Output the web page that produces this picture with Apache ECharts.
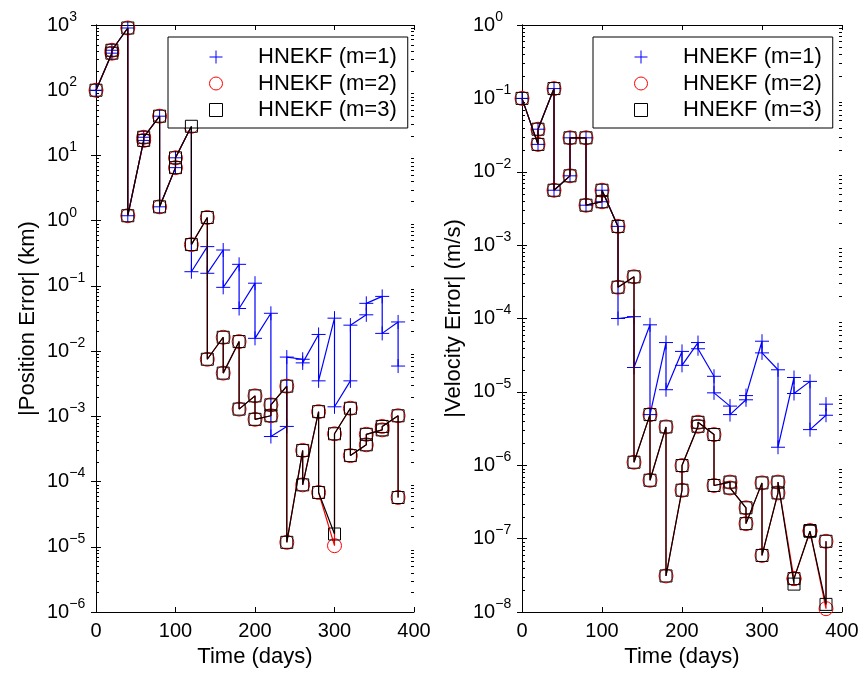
<!DOCTYPE html>
<html>
<head>
<meta charset="utf-8">
<script src="https://cdn.jsdelivr.net/npm/echarts@6/dist/echarts.min.js"></script>
<style>
html,body{margin:0;padding:0;background:#fff;}
#chart{width:864px;height:675px;}
</style>
</head>
<body>
<div id="chart"></div>
<script>
// ---- data ----
const times = [0,20,40,60,80,100,120,140,160,180,200,220,240,260,280,300,320,340,360,380];
const seriesNames = ['HNEKF (m=1)', 'HNEKF (m=2)', 'HNEKF (m=3)'];
const xTicks = [0, 100, 200, 300, 400];

// |Position Error| (km): value before and after the update at each time
const posM1Pre  = [100, 370, 900, 17, 40, 6.5, 28, 0.40, 0.355, 0.214, 0.11, 0.038, 0.0007, 0.0075, 0.018, 0.032, 0.0035, 0.036, 0.069, 0.028];
const posM1Post = [100, 410, 1.19, 19, 1.63, 9.2, 0.165, 0.156, 0.095, 0.045, 0.0157, 0.00049, 0.0081, 0.0066, 0.0035, 0.0014, 0.025, 0.054, 0.0187, 0.0059];
const posM2Pre  = [100, 370, 900, 17, 40, 6.5, 28, 1.12, 0.0163, 0.014, 0.00206, 0.00102, 0.0029, 3.0e-4, 0.00118, 1.04e-5, 0.00133, 3.66e-4, 6.2e-4, 0.00102];
const posM2Post = [100, 410, 1.19, 19, 1.63, 9.2, 0.43, 0.0075, 0.0046, 0.00129, 0.0009, 0.0015, 1.17e-5, 8.9e-5, 6.8e-5, 5.4e-4, 2.5e-4, 5.3e-4, 7.0e-4, 5.7e-5];
const posM3Pre  = [100, 370, 900, 17, 40, 6.5, 28, 1.12, 0.0163, 0.014, 0.00206, 0.00102, 0.0029, 3.0e-4, 0.00118, 1.57e-5, 0.00133, 3.66e-4, 6.2e-4, 0.00102];
const posM3Post = [100, 410, 1.19, 19, 1.63, 9.2, 0.43, 0.0075, 0.0046, 0.00129, 0.0009, 0.0015, 1.17e-5, 8.9e-5, 6.8e-5, 5.4e-4, 2.5e-4, 5.3e-4, 7.0e-4, 5.7e-5];

// |Velocity Error| (m/s)
const velM1Pre  = [0.1, 0.0236, 0.136, 0.0088, 0.029, 0.0039, 0.0018, 1.06e-4, 8.2e-5, 4.7e-5, 3.56e-5, 4.7e-5, 1.63e-5, 6.4e-6, 7.8e-6, 4.9e-5, 2.0e-5, 1.57e-5, 1.39e-5, 4.8e-6];
const velM1Post = [0.1, 0.038, 0.0056, 0.029, 0.0035, 0.0056, 1.0e-4, 2.15e-5, 4.9e-6, 1.07e-5, 2.3e-5, 3.87e-5, 9.7e-6, 4.9e-6, 8.9e-6, 3.4e-5, 1.76e-6, 9.5e-6, 3.06e-6, 6.8e-6];
const velM2Pre  = [0.1, 0.0236, 0.136, 0.0088, 0.029, 0.0039, 0.0018, 3.7e-4, 4.9e-6, 3.33e-6, 4.57e-7, 3.4e-6, 2.62e-6, 5.9e-7, 2.63e-7, 5.75e-7, 4.2e-7, 2.85e-8, 1.26e-7, 1.11e-8];
const velM2Post = [0.1, 0.038, 0.0056, 0.029, 0.0035, 0.0056, 2.67e-4, 1.1e-6, 6.25e-7, 3.1e-8, 9.9e-7, 3.85e-6, 5.3e-7, 4.9e-7, 1.6e-7, 5.9e-8, 5.9e-7, 2.85e-8, 1.29e-7, 9.2e-8];
const velM3Pre  = [0.1, 0.0236, 0.136, 0.0088, 0.029, 0.0039, 0.0018, 3.7e-4, 4.9e-6, 3.33e-6, 4.57e-7, 3.4e-6, 2.62e-6, 5.9e-7, 2.63e-7, 5.75e-7, 4.2e-7, 2.4e-8, 1.26e-7, 1.27e-8];
const velM3Post = [0.1, 0.038, 0.0056, 0.029, 0.0035, 0.0056, 2.67e-4, 1.1e-6, 6.25e-7, 3.1e-8, 9.9e-7, 3.85e-6, 5.3e-7, 4.9e-7, 1.6e-7, 5.9e-8, 5.9e-7, 2.85e-8, 1.29e-7, 9.2e-8];

// ---- build ----
const FONT = '"Liberation Sans", Arial, Helvetica, sans-serif';
const PLUS = 'path://M-10,0L10,0M0,-10L0,10';
const SQUARE = 'path://M-10,-10L10,-10L10,10L-10,10Z';

function sawtooth(pre, post) {
  const out = [[times[0], pre[0]]];
  for (let i = 1; i < times.length; i++) {
    out.push([times[i], pre[i]]);
    out.push([times[i], post[i]]);
  }
  return out;
}

function minorValues(lo, hi) {
  const v = [];
  for (let e = lo; e < hi; e++) {
    for (let k = 2; k <= 9; k++) v.push([0, k * Math.pow(10, e)]);
  }
  return v;
}

const styles = [
  { symbol: PLUS, symbolSize: 14, color: '#0000ff' },
  { symbol: 'circle', symbolSize: 14, color: '#ff0000' },
  { symbol: SQUARE, symbolSize: 12, color: '#000000' }
];

function lineSeries(idx, gi, pre, post) {
  const s = styles[idx];
  return {
    type: 'line',
    name: seriesNames[idx],
    xAxisIndex: gi * 2,
    yAxisIndex: gi * 2,
    data: sawtooth(pre, post),
    symbol: s.symbol,
    symbolSize: s.symbolSize,
    showSymbol: true,
    lineStyle: { color: s.color, width: 1.2 },
    itemStyle: { color: 'transparent', borderColor: s.color, borderWidth: 1 },
    emphasis: { disabled: true },
    animation: false,
    z: 2 + idx
  };
}

function tickSeries(gi, lo, hi) {
  return {
    type: 'custom',
    xAxisIndex: gi * 2,
    yAxisIndex: gi * 2,
    silent: true,
    animation: false,
    data: minorValues(lo, hi),
    encode: { x: 0, y: 1 },
    renderItem: function (params, api) {
      const p = api.coord([0, api.value(1)]);
      const cs = params.coordSys;
      const y = Math.round(p[1]) + 0.5;
      return {
        type: 'group',
        children: [
          { type: 'line', shape: { x1: cs.x, y1: y, x2: cs.x + 3, y2: y }, style: { stroke: '#000', lineWidth: 1 } },
          { type: 'line', shape: { x1: cs.x + cs.width, y1: y, x2: cs.x + cs.width - 3, y2: y }, style: { stroke: '#000', lineWidth: 1 } }
        ]
      };
    },
    z: 1
  };
}

function expLabel(v) {
  const e = Math.round(Math.log10(v));
  return '{b|10}{s|' + String(e).replace('-', '\u2212') + '}';
}

const axisLineStyle = { show: true, lineStyle: { color: '#000', width: 1 } };
const tickStyle = { show: true, inside: true, length: 5, lineStyle: { color: '#000', width: 1 } };

function xAxes(gi) {
  return [
    {
      gridIndex: gi, type: 'value', min: 0, max: 400, interval: 100, position: 'bottom',
      axisLine: axisLineStyle, axisTick: tickStyle, splitLine: { show: false },
      axisLabel: { margin: 9, fontSize: 20, color: '#000', fontFamily: FONT,
        formatter: function (v) { return xTicks.indexOf(v) >= 0 ? String(v) : ''; } },
      name: 'Time (days)', nameLocation: 'middle', nameGap: 34,
      nameTextStyle: { fontSize: 22, color: '#000', fontFamily: FONT }
    },
    {
      gridIndex: gi, type: 'value', min: 0, max: 400, interval: 100, position: 'top',
      axisLine: axisLineStyle, axisTick: tickStyle, splitLine: { show: false },
      axisLabel: { show: false }
    }
  ];
}

function yAxes(gi, lo, hi, title) {
  const common = {
    gridIndex: gi, type: 'log', logBase: 10, min: Math.pow(10, lo), max: Math.pow(10, hi),
    splitNumber: hi - lo,
    axisLine: axisLineStyle, axisTick: tickStyle, splitLine: { show: false }
  };
  return [
    Object.assign({}, common, {
      position: 'left',
      axisLabel: {
        align: 'left', margin: 49, color: '#000', fontFamily: FONT,
        formatter: expLabel,
        rich: {
          b: { fontSize: 20, lineHeight: 30, color: '#000', fontFamily: FONT },
          s: { fontSize: 14, lineHeight: 14, verticalAlign: 'top', color: '#000', fontFamily: FONT }
        }
      },
      name: title, nameLocation: 'middle', nameGap: 57,
      nameTextStyle: { fontSize: 22, color: '#000', fontFamily: FONT }
    }),
    Object.assign({}, common, { position: 'right', axisLabel: { show: false } })
  ];
}

function legendFor(left) {
  return {
    left: left, top: 37, orient: 'vertical',
    padding: [9, 11, 7, 41], itemGap: 4.5, itemWidth: 74, itemHeight: 13,
    borderColor: '#000', borderWidth: 1, backgroundColor: '#fff',
    selectedMode: false,
    textStyle: { fontSize: 22, color: '#000', fontFamily: FONT },
    data: seriesNames.map(function (n, i) {
      return {
        name: n,
        icon: styles[i].symbol,
        itemStyle: { color: 'transparent', borderColor: styles[i].color, borderWidth: 1 }
      };
    })
  };
}

const option = {
  backgroundColor: '#fff',
  animation: false,
  grid: [
    { left: 96, top: 25, width: 318, height: 587, containLabel: false },
    { left: 522, top: 25, width: 320, height: 587, containLabel: false }
  ],
  xAxis: xAxes(0).concat(xAxes(1)),
  yAxis: yAxes(0, -6, 3, '|Position Error| (km)').concat(yAxes(1, -8, 0, '|Velocity Error| (m/s)')),
  legend: [legendFor(168), legendFor(593)],
  series: [
    tickSeries(0, -6, 3),
    tickSeries(1, -8, 0),
    lineSeries(0, 0, posM1Pre, posM1Post),
    lineSeries(1, 0, posM2Pre, posM2Post),
    lineSeries(2, 0, posM3Pre, posM3Post),
    lineSeries(0, 1, velM1Pre, velM1Post),
    lineSeries(1, 1, velM2Pre, velM2Post),
    lineSeries(2, 1, velM3Pre, velM3Post)
  ]
};

const chart = echarts.init(document.getElementById('chart'), null, { renderer: 'canvas' });
chart.setOption(option);
</script>
</body>
</html>
